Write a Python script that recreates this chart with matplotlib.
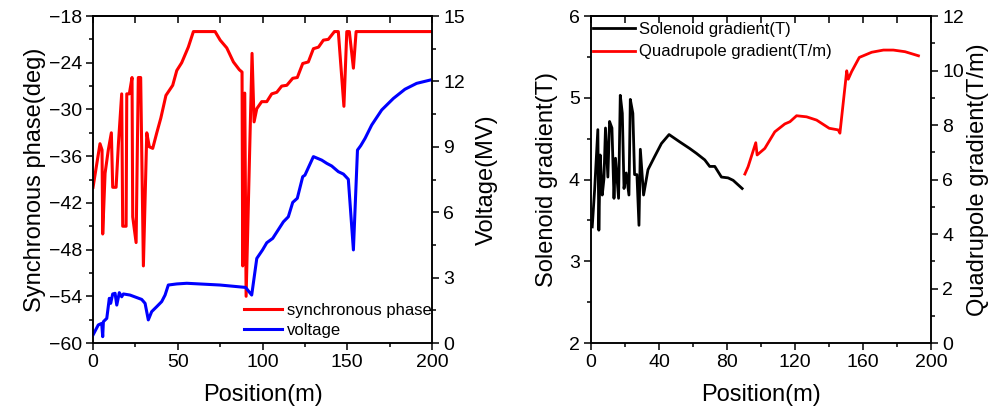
import matplotlib
matplotlib.use("Agg")
import matplotlib.pyplot as plt
from matplotlib.ticker import MultipleLocator

plt.rcParams['font.family'] = ['Liberation Sans', 'DejaVu Sans']

# ---- data: left panel ----
pos_phase = [0, 4.1, 5.3, 5.7, 7.1, 9, 10.8, 11.6, 13.6, 15, 16.9, 17.5, 19.5, 19.9,
             21.4, 23, 23.4, 25.4, 26.7, 28.1, 29.7, 31.7, 33.2, 35.2, 37.6, 40, 43,
             47, 49.4, 52.3, 56.2, 59.2, 72, 75, 78.9, 82.8, 86.3, 87.9, 88.3, 89.5,
             90.3, 93.8, 95, 96.6, 99.5, 102.5, 105.4, 108.4, 111.3, 114.3, 117.8,
             120.5, 123.7, 127, 130, 133, 135.9, 138.8, 142.4, 144.7, 148, 149.7,
             151.2, 153.6, 155.2, 200]
phase = [-40, -34.4, -35.2, -46, -38.2, -35.2, -33, -40, -40, -34.3, -28, -45, -45, -28,
         -28, -25.9, -43.8, -47.1, -25.9, -25.9, -50.1, -33, -34.8, -35, -33, -31.1, -28.2,
         -26.9, -25, -24, -22, -20, -20, -21.1, -22.1, -23.9, -24.9, -25.2, -50.1, -27.9,
         -54, -22.8, -31.6, -29.9, -29, -29, -28, -27.8, -27, -26.9, -26,
         -25.9, -24.1, -23.9, -22.2, -22, -21.1, -21, -20, -20, -29.6, -20,
         -20, -24.7, -20, -20]

pos_volt = [0, 3.1, 5.1, 5.7, 6.1, 8.1, 9.6, 10.4, 11.6, 13, 14, 15.5, 16.9, 17.9, 21.8,
            28.7, 30.7, 32.6, 34.6, 37.6, 40.5, 42.5, 44.4, 49.4, 55.3, 74.9, 90, 93.6,
            96.6, 100, 102.5, 106, 112.3, 115.2, 117.8, 120.5, 123.7, 125, 130, 134.9,
            137.9, 140.8, 144.7, 147.7, 150.6, 153.6, 156, 157.9, 160.5, 164.4, 170.3,
            177.2, 184, 190.9, 198.8]
voltage = [0.37, 0.83, 0.9, 0.29, 0.98, 1.13, 2.05, 1.82, 2.25, 2.28, 1.74, 2.31, 2.12, 2.25, 2.2,
           2.0, 1.82, 1.06, 1.44, 1.67, 1.9, 2.2, 2.66, 2.71, 2.74, 2.66, 2.55, 2.2,
           3.88, 4.27, 4.6, 4.8, 5.56, 5.79, 6.45, 6.64, 7.63, 7.7, 8.55, 8.39,
           8.24, 8.12, 7.86, 7.75, 7.51, 4.27, 8.85, 9.05, 9.39, 10.0, 10.69,
           11.22, 11.64, 11.91, 12.06]

# ---- data: right panel ----
pos_sol = [0.7, 2.1, 4, 4.6, 5.4, 6.6, 7.6, 8.5, 9.9, 10.9, 12.3, 13.5, 14.4, 16.2, 17.2,
           18.4, 19.4, 20.7, 22.3, 23.1, 24.6, 25.6, 27, 28.2, 29, 30.9, 33.5, 37.4, 41.4,
           45.9, 52.2, 58, 62, 66.9, 69.8, 72.8, 76.7, 80.6, 83.6, 88.9]
solenoid = [3.42, 3.87, 4.61, 3.38, 4.3, 3.81, 4.01, 4.63, 4.03, 4.71, 4.63, 3.77, 4.26, 3.77, 5.03,
            4.81, 3.89, 4.08, 3.81, 4.98, 4.81, 4.06, 4.06, 3.44, 4.37, 3.81, 4.12, 4.28, 4.44,
            4.55, 4.46, 4.38, 4.32, 4.24, 4.16, 4.16, 4.03, 4.02, 3.99, 3.89]

pos_quad = [90.5, 92.4, 96.9, 97.7, 102.2, 108.1, 114, 117, 120.9, 126.8, 132.7, 140.1,
            145.4, 146.4, 150.4, 151.3, 153.3, 157.8, 165.1, 172, 177.8, 184.7, 192.6]
quadrupole = [6.2, 6.47, 7.35, 6.9, 7.14, 7.75, 8.04, 8.12, 8.34, 8.3, 8.18, 7.88,
              7.82, 7.7, 9.99, 9.68, 9.96, 10.48, 10.67, 10.75, 10.75, 10.69, 10.54]

TICK_FS = 14
LABEL_FS = 17
LEG_FS = 12
SPINE_LW = 1.1

fig = plt.figure(figsize=(9.93, 4.2), dpi=100)
ax1 = fig.add_axes([0.0937, 0.1833, 0.3414, 0.7786])
ax2 = fig.add_axes([0.5952, 0.1833, 0.3424, 0.7786])


def style(ax):
    for s in ax.spines.values():
        s.set_linewidth(SPINE_LW)
    ax.tick_params(which='both', direction='out', width=SPINE_LW, labelsize=TICK_FS, pad=3)
    ax.tick_params(which='major', length=5)
    ax.tick_params(which='minor', length=3)


def top_ticks(ax, step):
    sec = ax.secondary_xaxis('top')
    sec.xaxis.set_major_locator(MultipleLocator(step))
    sec.tick_params(direction='in', length=5, width=SPINE_LW, labeltop=False)
    sec.spines['top'].set_linewidth(SPINE_LW)


# ---- left panel ----
l1, = ax1.plot(pos_phase, phase, color='#ff0000', lw=2.2)
ax1.set_xlim(0, 200)
ax1.set_ylim(-60, -18)
ax1.xaxis.set_major_locator(MultipleLocator(50))
ax1.xaxis.set_minor_locator(MultipleLocator(25))
ax1.yaxis.set_major_locator(MultipleLocator(6))
ax1.yaxis.set_minor_locator(MultipleLocator(3))
ax1.set_xlabel('Position(m)', fontsize=LABEL_FS, labelpad=9)
ax1.set_ylabel('Synchronous phase(deg)', fontsize=LABEL_FS, labelpad=2)
style(ax1)
top_ticks(ax1, 25)

ax1b = ax1.twinx()
l2, = ax1b.plot(pos_volt, voltage, color='#0000ff', lw=2.2)
ax1b.set_ylim(0, 15)
ax1b.yaxis.set_major_locator(MultipleLocator(3))
ax1b.yaxis.set_minor_locator(MultipleLocator(1.5))
ax1b.set_ylabel('Voltage(MV)', fontsize=LABEL_FS, labelpad=8)
style(ax1b)

ax1b.legend([l1, l2], ['synchronous phase', 'voltage'], loc='lower left',
            bbox_to_anchor=(0.43, 0.0), frameon=False, fontsize=LEG_FS,
            handlelength=2.3, handletextpad=0.3, labelspacing=0.3, borderpad=0.0,
            borderaxespad=0.3)

# ---- right panel ----
l3, = ax2.plot(pos_sol, solenoid, color='black', lw=2.0)
ax2.set_xlim(0, 200)
ax2.set_ylim(2, 6)
ax2.xaxis.set_major_locator(MultipleLocator(40))
ax2.xaxis.set_minor_locator(MultipleLocator(20))
ax2.yaxis.set_major_locator(MultipleLocator(1))
ax2.yaxis.set_minor_locator(MultipleLocator(0.5))
ax2.set_xlabel('Position(m)', fontsize=LABEL_FS, labelpad=9)
ax2.set_ylabel('Solenoid gradient(T)', fontsize=LABEL_FS, labelpad=8)
style(ax2)
top_ticks(ax2, 20)

ax2b = ax2.twinx()
l4, = ax2b.plot(pos_quad, quadrupole, color='#ff0000', lw=2.0)
ax2b.set_ylim(0, 12)
ax2b.yaxis.set_major_locator(MultipleLocator(2))
ax2b.yaxis.set_minor_locator(MultipleLocator(1))
ax2b.set_ylabel('Quadrupole gradient(T/m)', fontsize=LABEL_FS, labelpad=2)
style(ax2b)

ax2b.legend([l3, l4], ['Solenoid gradient(T)', 'Quadrupole gradient(T/m)'],
            loc='upper left', bbox_to_anchor=(-0.01, 1.0), frameon=False,
            fontsize=LEG_FS, handlelength=2.5, handletextpad=0.25,
            labelspacing=0.45, borderpad=0.0, borderaxespad=0.35)

fig.savefig('out.png', dpi=100)
